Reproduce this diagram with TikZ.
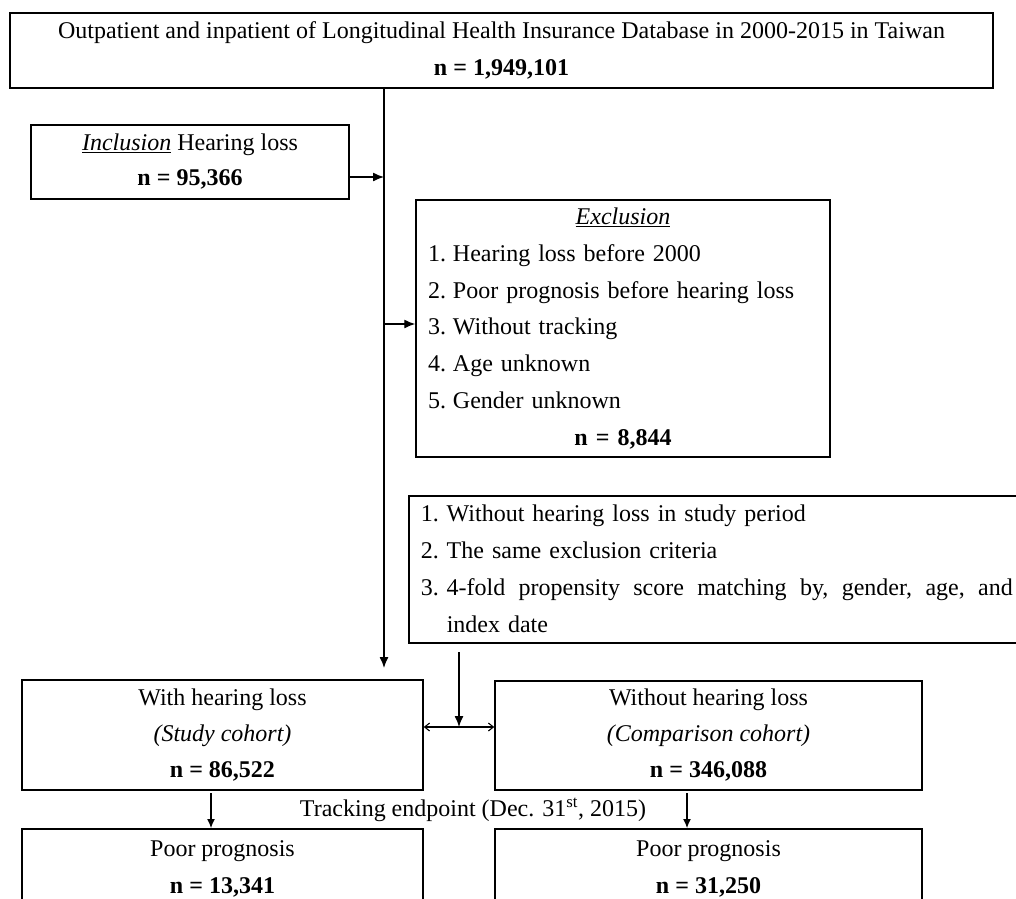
\documentclass[tikz,border=0pt]{standalone}
\usepackage{fontspec}
\setmainfont{Liberation Serif}
\usetikzlibrary{arrows.meta}
\begin{document}
\begin{tikzpicture}[x=1pt,y=-1pt,
  box/.style={draw, line width=1.5pt, inner sep=0pt, align=center},
  fs/.style={font=\fontsize{24}{#1}\selectfont},
  conn/.style={line width=1.3pt},
  arr/.style={conn, -{Latex[length=11pt,width=9pt]}},
  arrsm/.style={line width=1.2pt, -{Latex[length=9pt,width=8pt]}},
  dbl/.style={line width=1.1pt, {Straight Barb[length=5pt,width=8pt]}-{Straight Barb[length=5pt,width=8pt]}},
  ]
\fill[white] (0,0) rectangle (1016,898);
\useasboundingbox (0,0) rectangle (1016,898);
\clip (0,0) rectangle (1016,898);

\node[box, fs=37, minimum width=983pt, minimum height=75pt] (top) at (501.5,50.5)
  {Outpatient and inpatient of Longitudinal Health Insurance Database in 2000-2015 in Taiwan\\
   \textbf{n = 1,949,101}};

\node[box, fs=35, minimum width=318pt, minimum height=74pt] (incl) at (190,162)
  {\underline{\textit{Inclusion}} Hearing loss\\ \textbf{n = 95,366}};

\node[box, fs=36.7, minimum width=414pt, minimum height=257pt, text width=390pt, align=left] (excl) at (623,328.5)
  {\makebox[\linewidth]{\underline{\textit{Exclusion}}}\\
   \makebox[25pt][l]{1.}Hearing loss before 2000\\
   \makebox[25pt][l]{2.}Poor prognosis before hearing loss\\
   \makebox[25pt][l]{3.}Without tracking\\
   \makebox[25pt][l]{4.}Age unknown\\
   \makebox[25pt][l]{5.}Gender unknown\\
   \makebox[\linewidth]{\textbf{n = 8,844}}};

\node[box, fs=37, anchor=north west, minimum width=622pt, minimum height=147pt, text width=598pt, align=left] (match) at (408,495)
  {\makebox[26pt][l]{1.}Without hearing loss in study period\\
   \makebox[26pt][l]{2.}The same exclusion criteria\\
   \makebox[26pt][l]{3.}\hbox to 566pt{4-fold\hfill propensity\hfill score\hfill matching\hfill by,\hfill gender,\hfill age,\hfill and}\\
   \hspace*{26pt}index date};

\node[box, fs=36, minimum width=401pt, minimum height=110pt] (study) at (222.5,735)
  {With hearing loss\\ \textit{(Study cohort)}\\ \textbf{n = 86,522}};

\node[box, fs=36, minimum width=427pt, minimum height=109pt] (comp) at (708.5,735.5)
  {Without hearing loss\\ \textit{(Comparison cohort)}\\ \textbf{n = 346,088}};

\node[box, fs=37, anchor=north, minimum width=401pt, minimum height=80pt] (poor1) at (222.5,828)
  {Poor prognosis\\ \textbf{n = 13,341}};

\node[box, fs=37, anchor=north, minimum width=427pt, minimum height=80pt] (poor2) at (708.5,828)
  {Poor prognosis\\ \textbf{n = 31,250}};

\node[fs=24, inner sep=0pt] (track) at (473,810)
  {Tracking endpoint (Dec. 31\textsuperscript{st}, 2015)};

% connectors
\coordinate (mainend) at (384,668);
\coordinate (injoin) at (384,177);
\coordinate (exjoin) at (384,324);
\coordinate (mtop) at (459,652);
\coordinate (mjoin) at (459,727);
\coordinate (d1) at (211,793);
\coordinate (d2) at (687,793);

\draw[arr] (top.south -| mainend) -- (mainend);
\draw[arr] (injoin -| incl.east) -- (injoin);
\draw[arr] (exjoin) -- (exjoin -| excl.west);
\draw[arr] (mtop) -- (mjoin);
\draw[dbl] (mjoin -| study.east) -- (mjoin -| comp.west);
\draw[arrsm] (d1) -- (d1 |- poor1.north);
\draw[arrsm] (d2) -- (d2 |- poor2.north);
\end{tikzpicture}
\end{document}
